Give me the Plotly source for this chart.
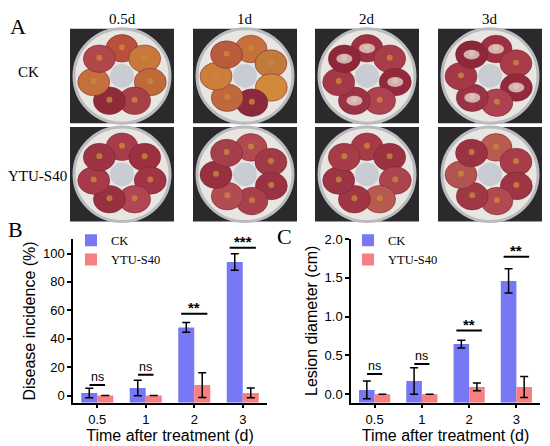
import math
import plotly.graph_objects as go

W, H = 550, 446

# ---- data ----
days = ["0.5", "1", "2", "3"]
groups = ["CK", "YTU-S40"]
photo_days = ["0.5d", "1d", "2d", "3d"]

incidence_ck = [1.8, 5.3, 48.0, 94.0]
incidence_ck_err = [3.4, 5.5, 3.5, 5.8]
incidence_ytu = [0.0, 0.0, 7.4, 1.9]
incidence_ytu_err = [0.0, 0.0, 8.7, 3.5]
incidence_sig = ["ns", "ns", "**", "***"]
incidence_sig_y = [7.5, 14.7, 57.6, 104.0]

lesion_ck = [0.055, 0.17, 0.645, 1.46]
lesion_ck_err = [0.115, 0.17, 0.05, 0.155]
lesion_ytu = [0.0, 0.0, 0.093, 0.093]
lesion_ytu_err = [0.0, 0.0, 0.05, 0.135]
lesion_sig = ["ns", "ns", "**", "**"]
lesion_sig_y = [0.26, 0.39, 0.82, 1.77]

# ---- style ----
CK_COLOR = "#7878F4"
YTU_COLOR = "#F77F7F"
SANS = "Liberation Sans, Arial, sans-serif"
SERIF = "Liberation Serif, Times New Roman, serif"

fig = go.Figure()
xs = list(range(len(days)))


def err_list(vals):
    # no whisker where the spread is zero
    return [v if v > 0 else None for v in vals]


def add_panel(ck, ck_err, ytu, ytu_err, floor, xa, ya, leg):
    for name, vals, errs, color in [("CK", ck, ck_err, CK_COLOR),
                                    ("YTU-S40", ytu, ytu_err, YTU_COLOR)]:
        fig.add_trace(go.Bar(
            x=xs, y=[v - floor for v in vals], base=floor, name=name,
            marker=dict(color=color, line=dict(width=0)),
            error_y=dict(type="data", array=err_list(errs), color="black",
                         thickness=1.5, width=4),
            xaxis=xa, yaxis=ya, legend=leg, offsetgroup=name,
        ))


def add_sig(labels, heights, xa, ya):
    for i, (lab, h) in enumerate(zip(labels, heights)):
        half = 0.16 if lab == "ns" else 0.27
        fig.add_trace(go.Scatter(
            x=[i - half, i + half], y=[h, h], mode="lines",
            line=dict(color="black", width=2), showlegend=False,
            hoverinfo="skip", xaxis=xa, yaxis=ya))
        fig.add_annotation(
            x=i, y=h, xref=xa, yref=ya, text=lab if lab == "ns" else "<b>%s</b>" % lab,
            showarrow=False, xanchor="center", yanchor="bottom",
            yshift=-1 if lab == "ns" else -4,
            font=dict(family=SANS, size=12.5 if lab == "ns" else 15, color="black"))


add_panel(incidence_ck, incidence_ck_err, incidence_ytu, incidence_ytu_err, -5, "x", "y", "legend")
add_panel(lesion_ck, lesion_ck_err, lesion_ytu, lesion_ytu_err, -0.11, "x2", "y2", "legend2")
add_sig(incidence_sig, incidence_sig_y, "x", "y")
add_sig(lesion_sig, lesion_sig_y, "x2", "y2")

axis_common = dict(showline=True, linecolor="black", linewidth=1.5, ticks="outside",
                   ticklen=4, tickwidth=1.5, tickcolor="black", showgrid=False,
                   zeroline=False, tickfont=dict(family=SANS, size=13, color="black"))
title_font = dict(family=SANS, size=16, color="black")

xcommon = dict(axis_common, range=[-0.5, 3.5], tickvals=xs, ticktext=days,
               title=dict(text="Time after treatment (d)", standoff=3, font=title_font))

fig.update_layout(
    width=W, height=H, margin=dict(l=0, r=0, t=0, b=0),
    paper_bgcolor="white", plot_bgcolor="white",
    barmode="group", bargap=0.34, bargroupgap=0,
    showlegend=True,
    xaxis=dict(xcommon, domain=[73 / W, 267 / W], anchor="y"),
    yaxis=dict(axis_common, domain=[1 - 402 / H, 1 - 236 / H], range=[-5, 110],
               tickvals=[0, 20, 40, 60, 80, 100], anchor="x",
               title=dict(text="Disease incidence (%)", standoff=3, font=title_font)),
    xaxis2=dict(xcommon, domain=[351 / W, 540 / W], anchor="y2"),
    yaxis2=dict(axis_common, domain=[1 - 402 / H, 1 - 235.7 / H], range=[-0.11, 2.0],
                tickvals=[0, 0.5, 1.0, 1.5, 2.0], tickformat=".1f", anchor="x2",
                title=dict(text="Lesion diameter (cm)", standoff=3, font=title_font)),
    legend=dict(x=71 / W, y=1 - 222 / H, xanchor="left", yanchor="top",
                bgcolor="rgba(0,0,0,0)", tracegroupgap=0, itemwidth=30,
                font=dict(family=SERIF, size=12.5, color="black")),
    legend2=dict(x=348 / W, y=1 - 222 / H, xanchor="left", yanchor="top",
                 bgcolor="rgba(0,0,0,0)", tracegroupgap=0, itemwidth=30,
                 font=dict(family=SERIF, size=12.5, color="black")),
)

# ---- panel A: stand-in drawings of the dish photos ----
shapes = []


def box(x0, y0, x1, y1, kind, **kw):
    d = dict(type=kind, xref="paper", yref="paper",
             x0=x0 / W, x1=x1 / W, y0=1 - y1 / H, y1=1 - y0 / H)
    d.update(kw)
    shapes.append(d)


col_x = [70, 193, 315, 438]
row_y = [22, 122]
cw, ch = 104, 96

reds = ["#9e3040", "#a83c48", "#93293b", "#ad4250", "#9a3444", "#a53846", "#8e2838"]
cell_colors = [
    ["#b8503c", "#c8783a", "#c06a3a", "#a84048", "#8e2a3a", "#c4703c", "#b0484a"],
    ["#c8703a", "#c27a3a", "#d08a3a", "#8a2a3c", "#c0683c", "#cc7e3a", "#b85c3c"],
    reds, reds,
    ["#a83c4a", "#9a3040", "#a03444", "#b04652", "#983040", "#a63a48", "#9c3444"],
    ["#b04a50", "#a03a46", "#9a3242", "#a8404c", "#b24c52", "#983040", "#a4404a"],
    ["#a63a46", "#9a3242", "#ac4450", "#b85a50", "#a03644", "#9c3444", "#a63c48"],
    ["#b85c50", "#a83c48", "#9e3444", "#b04a50", "#a03844", "#b25450", "#9a3242"],
]

for r, y0 in enumerate(row_y):
    for c, x0 in enumerate(col_x):
        idx = r * 4 + c
        box(x0, y0, x0 + cw, y0 + ch, "rect", fillcolor="#2b292c", line=dict(width=0))
        cx, cy = x0 + cw / 2, y0 + ch / 2
        rad = 48
        box(cx - rad, cy - rad, cx + rad, cy + rad, "circle",
            fillcolor="#e9e6e2", line=dict(color="#b9bbbe", width=3))
        box(cx - 12, cy - 12, cx + 12, cy + 12, "circle",
            fillcolor="#c9ccd2", line=dict(width=0))
        for k in range(7):
            ang = math.radians(-90 + k * 360 / 7 + (12 if c % 2 else 0))
            gx, gy = cx + 29 * math.cos(ang), cy + 28 * math.sin(ang)
            box(gx - 16, gy - 14, gx + 16, gy + 14, "circle",
                fillcolor=cell_colors[idx][k], line=dict(color="#6e2030", width=0.5))
            box(gx - 3, gy - 4, gx + 3, gy + 2, "circle",
                fillcolor="#c88a3a", line=dict(width=0), opacity=0.8)
            if r == 0 and c >= 2 and k % 2 == 0:
                box(gx - 8, gy - 5, gx + 8, gy + 5, "circle",
                    fillcolor="#eadbd6", line=dict(width=0), opacity=0.75)

fig.update_layout(shapes=shapes)

# ---- panel texts ----
def paper_text(px, py, text, size):
    fig.add_annotation(x=px / W, y=1 - py / H, xref="paper", yref="paper", text=text,
                       showarrow=False, xanchor="center", yanchor="middle",
                       font=dict(family=SERIF, size=size, color="black"))


for c, lab in enumerate(photo_days):
    paper_text(col_x[c] + cw / 2, 12, lab, 15)

paper_text(28, 66, "CK", 15)
paper_text(37, 172, "YTU-S40", 15)

for lab, px, py in [("A", 18, 20), ("B", 15, 226), ("C", 284, 233)]:
    paper_text(px, py, lab, 22)

fig.write_html("out.html", config={"displayModeBar": False},
               post_script="document.body.style.margin = '0';")
